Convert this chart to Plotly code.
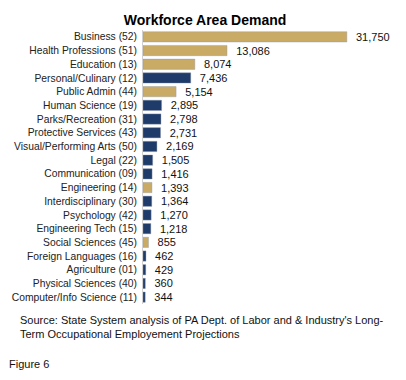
import plotly.graph_objects as go

categories = ["Business (52)", "Health Professions (51)", "Education (13)", "Personal/Culinary (12)",
              "Public Admin (44)", "Human Science (19)", "Parks/Recreation (31)", "Protective Services (43)",
              "Visual/Performing Arts (50)", "Legal (22)", "Communication (09)", "Engineering (14)",
              "Interdisciplinary (30)", "Psychology (42)", "Engineering Tech (15)", "Social Sciences (45)",
              "Foreign Languages (16)", "Agriculture (01)", "Physical Sciences (40)", "Computer/Info Science (11)"]
values = [31750, 13086, 8074, 7436, 5154, 2895, 2798, 2731, 2169, 1505, 1416, 1393, 1364, 1270, 1218, 855,
          462, 429, 360, 344]
highlight = [True, True, True, False, True, False, False, False, False, False, False, True,
             False, False, False, True, False, False, False, False]

GOLD = "#C9AB65"
NAVY = "#1F3B69"
colors = [GOLD if h else NAVY for h in highlight]

# page body has an 8px margin, so the figure is laid out in its own coordinates
W, H = 390, 364
ml, mr, mt, mb = 135, 11, 22, 68
pw, ph = W - ml - mr, H - mt - mb

def px_x(x):
    return (x - ml) / pw

def px_y(y):
    return (H - mb - y) / ph

FONT = "Liberation Sans, Arial"

fig = go.Figure(go.Bar(
    y=categories, x=values, orientation="h",
    marker=dict(color=colors, line=dict(color="#8a97ad", width=0.4)),
    text=["\u00a0\u00a0" + f"{v:,}" for v in values], textposition="outside",
    constraintext="none",
    textfont=dict(family=FONT, size=11, color="#111"),
    cliponaxis=False,
))

fig.update_layout(
    width=W, height=H,
    margin=dict(l=ml, r=mr, t=mt, b=mb, autoexpand=False),
    paper_bgcolor="white", plot_bgcolor="white",
    bargap=0.25,
    showlegend=False,
    title=dict(text="<b>Workforce Area Demand</b>", x=197 / W, xref="container", xanchor="center",
               y=1 - 12 / H, yref="container", yanchor="middle",
               font=dict(family=FONT, size=14, color="#000")),
    xaxis=dict(range=[0, 38000], visible=False),
    yaxis=dict(autorange="reversed", showline=True, linecolor="#d0d0d0", linewidth=1,
               ticks="", showgrid=False, ticklabelstandoff=3, automargin=False,
               tickfont=dict(family=FONT, size=10.3, color="#222")),
    annotations=[
        dict(text="Source: State System analysis of PA Dept. of Labor and & Industry's Long-<br>"
                  "Term Occupational Employement Projections",
             xref="paper", yref="paper", x=px_x(10), y=px_y(304), xanchor="left", yanchor="top",
             align="left", showarrow=False,
             font=dict(family=FONT, size=11, color="#111")),
        dict(text="Figure 6", xref="paper", yref="paper", x=px_x(-1), y=px_y(348),
             xanchor="left", yanchor="top", showarrow=False,
             font=dict(family=FONT, size=11, color="#111")),
    ],
)

fig.write_html("out.html")
